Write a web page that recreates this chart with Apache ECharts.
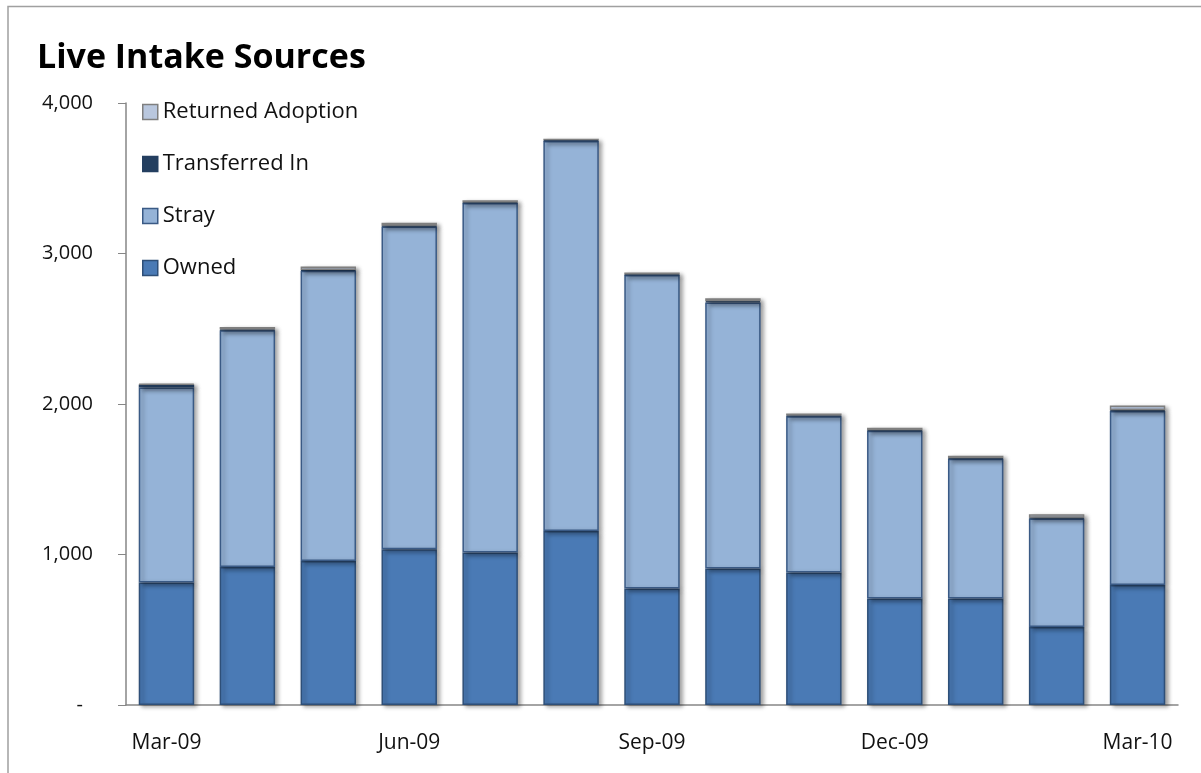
<!DOCTYPE html>
<html>
<head>
<meta charset="utf-8">
<script src="https://cdn.jsdelivr.net/npm/echarts@6/dist/echarts.min.js"></script>
<style>
html,body{margin:0;padding:0;background:#fff;}
#chart{width:1201px;height:773px;}
</style>
</head>
<body>
<div id="chart"></div>
<script>
var categories = ['Mar-09','Apr-09','May-09','Jun-09','Jul-09','Aug-09','Sep-09','Oct-09','Nov-09','Dec-09','Jan-10','Feb-10','Mar-10'];
var owned       = [814, 917, 957, 1035, 1013, 1156, 774, 907, 880, 708, 708, 519, 798];
var stray       = [1296, 1573, 1929, 2145, 2322, 2592, 2083, 1768, 1039, 1114, 928, 721, 1156];
var transferred = [20, 5, 5, 5, 4, 4, 4, 8, 4, 4, 4, 5, 5];
var returned    = [4, 17, 23, 19, 15, 11, 13, 19, 14, 16, 16, 22, 31];
var yTicks = [0, 1000, 2000, 3000, 4000];

var font = '"Open Sans", sans-serif';
var shadow = {shadowColor:'rgba(0,0,0,0.35)', shadowBlur:4, shadowOffsetX:3, shadowOffsetY:2};
function mk(name, data, color, border){
  return {
    name: name, type: 'bar', stack: 'total', data: data,
    barCategoryGap: '31.5%',
    itemStyle: Object.assign({color: color, borderColor: border, borderWidth: 1.5}, shadow),
    emphasis: {disabled: true}
  };
}
var chart = echarts.init(document.getElementById('chart'), null, {renderer:'canvas'});
chart.setOption({
  animation: false,
  backgroundColor: '#fff',
  title: {
    text: 'Live Intake Sources', left: 32, top: 36,
    textStyle: {fontFamily: font, fontWeight: 'bold', fontSize: 34, color: '#000'}
  },
  legend: {
    orient: 'vertical', left: 137, top: 96,
    data: ['Returned Adoption','Transferred In','Stray','Owned'],
    icon: 'rect', itemWidth: 15, itemHeight: 15, itemGap: 30,
    itemStyle: {shadowBlur: 0, shadowOffsetX: 0, shadowOffsetY: 0, borderWidth: 1.5},
    textStyle: {fontFamily: font, fontSize: 22, lineHeight: 22, color: '#111', padding: [0,0,0,0]},
    selectedMode: false
  },
  graphic: [{
    type: 'rect', shape: {x: 8, y: 6.5, width: 1300, height: 800},
    style: {fill: 'none', stroke: '#a0a0a0', lineWidth: 1.5}, silent: true
  }],
  grid: {left: 126, right: 23, top: 103, bottom: 68, containLabel: false},
  xAxis: {
    type: 'category', data: categories,
    axisLine: {lineStyle: {color: '#868686', width: 1.5}},
    axisTick: {alignWithLabel: true, interval: 0, length: 6, lineStyle: {color: '#868686'}},
    axisLabel: {interval: 2, margin: 28, fontFamily: font, fontSize: 21, color: '#111'}
  },
  yAxis: {
    type: 'value', min: 0, max: 4000, interval: 1000,
    axisLine: {show: true, lineStyle: {color: '#868686', width: 1.5}},
    axisTick: {show: true, length: 8, lineStyle: {color: '#868686'}},
    splitLine: {show: false},
    axisLabel: {
      margin: 33, fontFamily: font, fontSize: 20, color: '#111',
      formatter: function(v){ return v === yTicks[0] ? '{d|-}' : v.toLocaleString('en-US'); },
      rich: {d: {fontFamily: font, fontSize: 20, color: '#111', padding: [0, 10, 0, 0]}}
    }
  },
  series: [
    mk('Owned', owned, '#4A7AB5', '#2E4F78'),
    mk('Stray', stray, '#95B3D7', '#3A5A85'),
    mk('Transferred In', transferred, '#243F60', '#243F60'),
    mk('Returned Adoption', returned, '#B9C7DE', '#7F7F7F')
  ]
});
</script>
</body>
</html>
